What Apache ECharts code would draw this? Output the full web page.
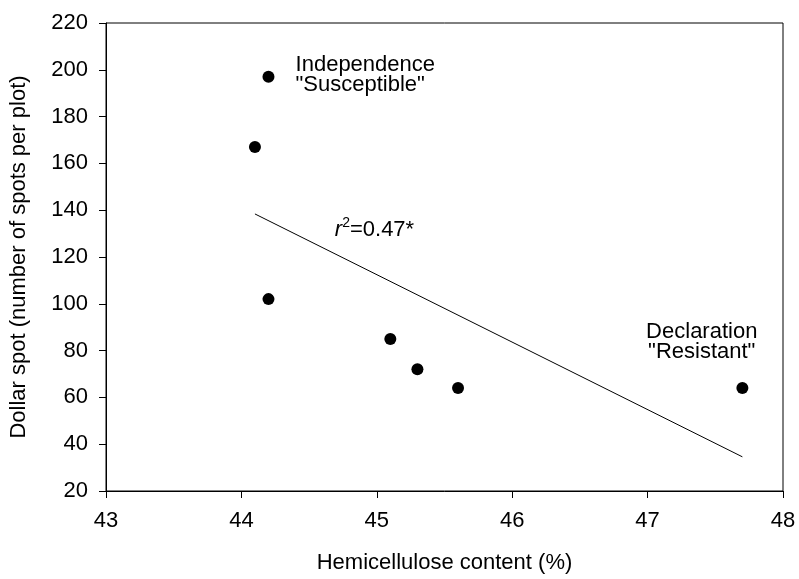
<!DOCTYPE html>
<html>
<head>
<meta charset="utf-8">
<script src="https://cdn.jsdelivr.net/npm/echarts@6/dist/echarts.min.js"></script>
<style>
  html, body { margin: 0; padding: 0; background: #fff; }
  #chart { width: 799px; height: 579px; }
</style>
</head>
<body>
<div id="chart"></div>
<script>
// hemicellulose content (%) vs dollar spot counts
const hemicellulose = [44.2, 44.1, 44.2, 45.1, 45.3, 45.6, 47.7];
const dollarSpot = [197, 167, 102, 85, 72, 64, 64];

// regression line end points
const fitX = [44.1, 47.7];
const fitY = [138.4, 34.6];

const notes = [
  { x: 44.4, y: 197.6, text: "Independence\n\"Susceptible\"", align: "left" },
  { x: 47.4, y: 83.5, text: "Declaration\n\"Resistant\"", align: "center" },
];
const r2Note = { x: 44.69, y: 131.6 };

const FONT = "Liberation Sans, Arial, sans-serif";

const chart = echarts.init(document.getElementById("chart"), null, { renderer: "canvas" });

const axisCommon = {
  type: "value",
  splitLine: { show: false },
  axisLine: { show: true, lineStyle: { color: "#000", width: 1 } },
  axisTick: { show: true, inside: false, length: 7, lineStyle: { color: "#000" } },
  nameTextStyle: { fontFamily: FONT, fontSize: 22, color: "#000" },
};

const option = {
  animation: false,
  backgroundColor: "#fff",
  grid: { left: 106, right: 16, top: 23, bottom: 83, show: true, borderColor: "#000", borderWidth: 1 },
  xAxis: Object.assign({}, axisCommon, {
    min: 43, max: 48, interval: 1,
    name: "Hemicellulose content (%)",
    nameLocation: "middle",
    nameGap: 61,
    axisLabel: { margin: 19, fontFamily: FONT, fontSize: 22, color: "#000" },
  }),
  yAxis: Object.assign({}, axisCommon, {
    min: 20, max: 220, interval: 20,
    name: "Dollar spot (number of spots per plot)",
    nameLocation: "middle",
    nameGap: 76,
    axisLabel: { margin: 18, fontFamily: FONT, fontSize: 22, color: "#000" },
  }),
  series: [
    {
      type: "line",
      data: fitX.map((x, i) => [x, fitY[i]]),
      symbol: "none",
      lineStyle: { color: "#000", width: 1 },
      z: 2,
    },
    {
      type: "scatter",
      data: hemicellulose.map((x, i) => [x, dollarSpot[i]]),
      symbol: "circle",
      symbolSize: 12,
      itemStyle: { color: "#000", opacity: 1 },
      z: 3,
    },
    {
      type: "scatter",
      symbolSize: 0,
      silent: true,
      itemStyle: { opacity: 1 },
      data: notes.map(n => ({
        value: [n.x, n.y],
        label: {
          show: true,
          position: "inside",
          formatter: n.text,
          align: n.align,
          verticalAlign: "middle",
          fontFamily: FONT,
          fontSize: 22,
          lineHeight: 20,
          color: "#000",
        },
      })).concat([{
        value: [r2Note.x, r2Note.y],
        label: {
          show: true,
          position: "inside",
          align: "left",
          verticalAlign: "middle",
          formatter: "{i|r}{s|2}{n|=0.47*}",
          rich: {
            i: { fontFamily: FONT, fontSize: 22, fontStyle: "italic", color: "#000" },
            s: { fontFamily: FONT, fontSize: 14, color: "#000", verticalAlign: "top", padding: [0, 0, 14, 0] },
            n: { fontFamily: FONT, fontSize: 22, color: "#000" },
          },
        },
      }]),
    },
  ],
};

chart.setOption(option);
</script>
</body>
</html>
